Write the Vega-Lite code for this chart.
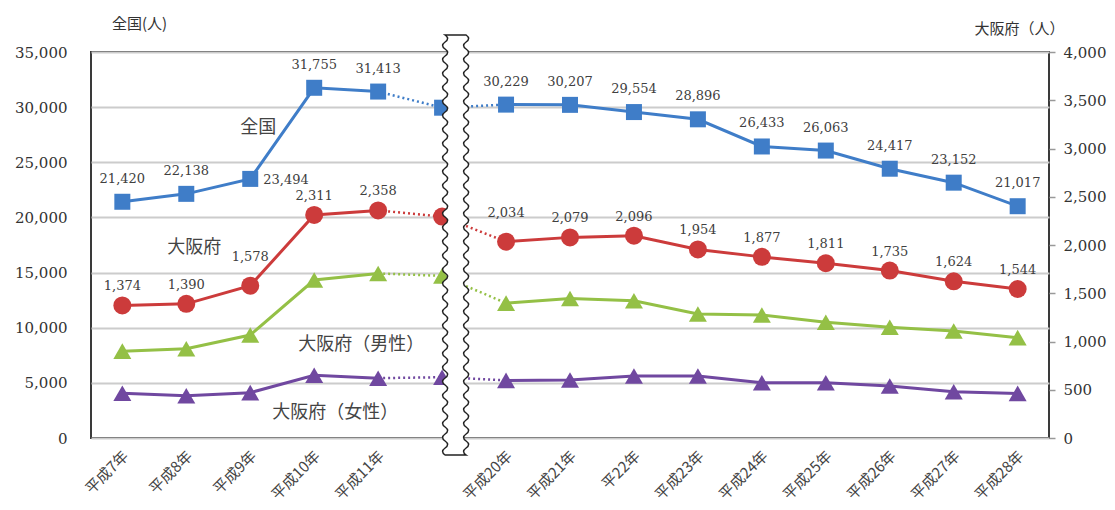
{
  "$schema": "https://vega.github.io/schema/vega-lite/v6.json",
  "width": 958,
  "height": 386,
  "autosize": {"type": "none"},
  "padding": {"left": 91, "top": 52, "right": 66, "bottom": 72},
  "background": "white",
  "config": {
    "view": {"stroke": "#3a3a3a", "strokeWidth": 2},
    "font": "DejaVu Serif"
  },
  "datasets": {
    "d": [
      {"year": "平成7年", "series": "全国", "value": 21420},
      {"year": "平成8年", "series": "全国", "value": 22138},
      {"year": "平成9年", "series": "全国", "value": 23494},
      {"year": "平成10年", "series": "全国", "value": 31755},
      {"year": "平成11年", "series": "全国", "value": 31413},
      {"year": "（中略）", "series": "全国", "value": 29950},
      {"year": "平成20年", "series": "全国", "value": 30229},
      {"year": "平成21年", "series": "全国", "value": 30207},
      {"year": "平22年", "series": "全国", "value": 29554},
      {"year": "平成23年", "series": "全国", "value": 28896},
      {"year": "平成24年", "series": "全国", "value": 26433},
      {"year": "平成25年", "series": "全国", "value": 26063},
      {"year": "平成26年", "series": "全国", "value": 24417},
      {"year": "平成27年", "series": "全国", "value": 23152},
      {"year": "平成28年", "series": "全国", "value": 21017},
      {"year": "平成7年", "series": "大阪府", "value": 1374},
      {"year": "平成8年", "series": "大阪府", "value": 1390},
      {"year": "平成9年", "series": "大阪府", "value": 1578},
      {"year": "平成10年", "series": "大阪府", "value": 2311},
      {"year": "平成11年", "series": "大阪府", "value": 2358},
      {"year": "（中略）", "series": "大阪府", "value": 2295},
      {"year": "平成20年", "series": "大阪府", "value": 2034},
      {"year": "平成21年", "series": "大阪府", "value": 2079},
      {"year": "平22年", "series": "大阪府", "value": 2096},
      {"year": "平成23年", "series": "大阪府", "value": 1954},
      {"year": "平成24年", "series": "大阪府", "value": 1877},
      {"year": "平成25年", "series": "大阪府", "value": 1811},
      {"year": "平成26年", "series": "大阪府", "value": 1735},
      {"year": "平成27年", "series": "大阪府", "value": 1624},
      {"year": "平成28年", "series": "大阪府", "value": 1544},
      {"year": "平成7年", "series": "大阪府（男性）", "value": 900},
      {"year": "平成8年", "series": "大阪府（男性）", "value": 925},
      {"year": "平成9年", "series": "大阪府（男性）", "value": 1067},
      {"year": "平成10年", "series": "大阪府（男性）", "value": 1637},
      {"year": "平成11年", "series": "大阪府（男性）", "value": 1705},
      {"year": "（中略）", "series": "大阪府（男性）", "value": 1680},
      {"year": "平成20年", "series": "大阪府（男性）", "value": 1398},
      {"year": "平成21年", "series": "大阪府（男性）", "value": 1445},
      {"year": "平22年", "series": "大阪府（男性）", "value": 1423},
      {"year": "平成23年", "series": "大阪府（男性）", "value": 1285},
      {"year": "平成24年", "series": "大阪府（男性）", "value": 1275},
      {"year": "平成25年", "series": "大阪府（男性）", "value": 1199},
      {"year": "平成26年", "series": "大阪府（男性）", "value": 1147},
      {"year": "平成27年", "series": "大阪府（男性）", "value": 1109},
      {"year": "平成28年", "series": "大阪府（男性）", "value": 1040},
      {"year": "平成7年", "series": "大阪府（女性）", "value": 463},
      {"year": "平成8年", "series": "大阪府（女性）", "value": 438},
      {"year": "平成9年", "series": "大阪府（女性）", "value": 470},
      {"year": "平成10年", "series": "大阪府（女性）", "value": 650},
      {"year": "平成11年", "series": "大阪府（女性）", "value": 620},
      {"year": "（中略）", "series": "大阪府（女性）", "value": 630},
      {"year": "平成20年", "series": "大阪府（女性）", "value": 597},
      {"year": "平成21年", "series": "大阪府（女性）", "value": 601},
      {"year": "平22年", "series": "大阪府（女性）", "value": 642},
      {"year": "平成23年", "series": "大阪府（女性）", "value": 642},
      {"year": "平成24年", "series": "大阪府（女性）", "value": 573},
      {"year": "平成25年", "series": "大阪府（女性）", "value": 573},
      {"year": "平成26年", "series": "大阪府（女性）", "value": 539},
      {"year": "平成27年", "series": "大阪府（女性）", "value": 480},
      {"year": "平成28年", "series": "大阪府（女性）", "value": 462}
    ],
    "notes": [
      {"note": "全国", "year": "平成9年", "v": 3212},
      {"note": "大阪府", "year": "平成8年", "v": 1969},
      {"note": "大阪府（男性）", "year": "平成11年", "v": 964},
      {"note": "大阪府（女性）", "year": "平成10年", "v": 259}
    ],
    "brk": [{"year": "（中略）"}]
  },
  "encoding": {
    "x": {
      "field": "year",
      "type": "ordinal",
      "scale": {
        "type": "point",
        "padding": 0.49,
        "domain": ["平成7年", "平成8年", "平成9年", "平成10年", "平成11年", "（中略）", "平成20年", "平成21年", "平22年", "平成23年", "平成24年", "平成25年", "平成26年", "平成27年", "平成28年"]
      },
      "axis": {
        "title": null,
        "labelAngle": 315,
        "labelAlign": "right",
        "labelBaseline": "middle",
        "labelFont": "Noto Sans CJK JP",
        "labelFontSize": 15,
        "labelColor": "#444444",
        "labelPadding": 15,
        "labelOffset": 3,
        "ticks": false,
        "domain": false,
        "grid": false,
        "labelExpr": "datum.value === '（中略）' ? '' : datum.value"
      }
    }
  },
  "layer": [
    {
      "data": {"name": "d"},
      "transform": [{"filter": "datum.series === '全国'"}],
      "encoding": {
        "y": {
          "field": "value",
          "type": "quantitative",
          "scale": {"domain": [0, 35000], "nice": false},
          "axis": {
            "orient": "left",
            "values": [0, 5000, 10000, 15000, 20000, 25000, 30000, 35000],
            "format": ",d",
            "labelFont": "DejaVu Serif",
            "labelFontSize": 15,
            "labelColor": "#333333",
            "labelPadding": 24,
            "ticks": false,
            "domain": false,
            "grid": true,
            "gridColor": "#cccccc",
            "gridWidth": 2,
            "title": "全国(人)",
            "titleFont": "Noto Sans CJK JP",
            "titleFontSize": 15,
            "titleFontWeight": "normal",
            "titleColor": "#333333",
            "titleAngle": 0,
            "titleAlign": "center",
            "titleBaseline": "middle",
            "titleX": 48,
            "titleY": -29
          }
        }
      },
      "layer": [
        {
          "transform": [{"filter": {"field": "year", "oneOf": ["平成7年", "平成8年", "平成9年", "平成10年", "平成11年"]}}],
          "mark": {"type": "line", "color": "#3f7dc8", "strokeWidth": 3}
        },
        {
          "transform": [{"filter": {"field": "year", "oneOf": ["平成20年", "平成21年", "平22年", "平成23年", "平成24年", "平成25年", "平成26年", "平成27年", "平成28年"]}}],
          "mark": {"type": "line", "color": "#3f7dc8", "strokeWidth": 3}
        },
        {
          "transform": [{"filter": {"field": "year", "oneOf": ["平成11年", "（中略）", "平成20年"]}}],
          "mark": {"type": "line", "color": "#3f7dc8", "strokeWidth": 2.5, "strokeDash": [2, 3]}
        },
        {
          "mark": {"type": "point", "shape": "square", "filled": true, "size": 256, "color": "#3f7dc8", "opacity": 1}
        },
        {
          "transform": [{"filter": "datum.year !== '（中略）' && datum.year !== '平成9年'"}],
          "mark": {"type": "text", "dy": -23, "fontSize": 13, "font": "DejaVu Serif", "color": "#404040"},
          "encoding": {"text": {"field": "value", "type": "quantitative", "format": ",d"}}
        },
        {
          "transform": [{"filter": "datum.year === '平成9年'"}],
          "mark": {"type": "text", "align": "left", "dx": 13, "dy": 1, "fontSize": 13, "font": "DejaVu Serif", "color": "#404040"},
          "encoding": {"text": {"field": "value", "type": "quantitative", "format": ",d"}}
        }
      ]
    },
    {
      "data": {"name": "d"},
      "transform": [{"filter": "datum.series !== '全国'"}],
      "encoding": {
        "y": {
          "field": "value",
          "type": "quantitative",
          "scale": {"domain": [0, 4000], "nice": false},
          "axis": {
            "orient": "right",
            "values": [0, 500, 1000, 1500, 2000, 2500, 3000, 3500, 4000],
            "format": ",d",
            "labelFont": "DejaVu Serif",
            "labelFontSize": 15,
            "labelColor": "#333333",
            "labelPadding": 8,
            "ticks": true,
            "tickSize": 6,
            "tickColor": "#999999",
            "tickWidth": 1.5,
            "domain": false,
            "grid": false,
            "title": "大阪府（人）",
            "titleFont": "Noto Sans CJK JP",
            "titleFontSize": 15,
            "titleFontWeight": "normal",
            "titleColor": "#333333",
            "titleAngle": 0,
            "titleAlign": "center",
            "titleBaseline": "middle",
            "titleX": -30,
            "titleY": -24
          }
        },
        "color": {
          "field": "series",
          "type": "nominal",
          "scale": {"domain": ["大阪府", "大阪府（男性）", "大阪府（女性）"], "range": ["#cc3b3b", "#94c046", "#7048a0"]},
          "legend": null
        }
      },
      "layer": [
        {
          "transform": [{"filter": {"field": "year", "oneOf": ["平成7年", "平成8年", "平成9年", "平成10年", "平成11年"]}}],
          "mark": {"type": "line", "strokeWidth": 3}
        },
        {
          "transform": [{"filter": {"field": "year", "oneOf": ["平成20年", "平成21年", "平22年", "平成23年", "平成24年", "平成25年", "平成26年", "平成27年", "平成28年"]}}],
          "mark": {"type": "line", "strokeWidth": 3}
        },
        {
          "transform": [{"filter": {"field": "year", "oneOf": ["平成11年", "（中略）", "平成20年"]}}],
          "mark": {"type": "line", "strokeWidth": 2.5, "strokeDash": [2, 3]}
        },
        {
          "mark": {"type": "point", "filled": true, "size": 324, "opacity": 1},
          "encoding": {
            "shape": {
              "field": "series",
              "type": "nominal",
              "scale": {"domain": ["大阪府", "大阪府（男性）", "大阪府（女性）"], "range": ["circle", "triangle-up", "triangle-up"]},
              "legend": null
            }
          }
        },
        {
          "transform": [{"filter": "datum.series === '大阪府' && datum.year !== '（中略）' && datum.year !== '平成9年' && datum.year !== '平成20年'"}],
          "mark": {"type": "text", "dy": -19, "fontSize": 13, "font": "DejaVu Serif", "color": "#404040"},
          "encoding": {"text": {"field": "value", "type": "quantitative", "format": ",d"}, "color": {"value": "#404040"}}
        },
        {
          "transform": [{"filter": "datum.series === '大阪府' && (datum.year === '平成9年' || datum.year === '平成20年')"}],
          "mark": {"type": "text", "dy": -29, "fontSize": 13, "font": "DejaVu Serif", "color": "#404040"},
          "encoding": {"text": {"field": "value", "type": "quantitative", "format": ",d"}, "color": {"value": "#404040"}}
        }
      ]
    },
    {
      "data": {"name": "brk"},
      "mark": {
        "type": "point",
        "shape": "M 3 -210 Q 8 -206.5 3 -203 T 3 -196 T 3 -189 T 3 -182 T 3 -175 T 3 -168 T 3 -161 T 3 -154 T 3 -147 T 3 -140 T 3 -133 T 3 -126 T 3 -119 T 3 -112 T 3 -105 T 3 -98 T 3 -91 T 3 -84 T 3 -77 T 3 -70 T 3 -63 T 3 -56 T 3 -49 T 3 -42 T 3 -35 T 3 -28 T 3 -21 T 3 -14 T 3 -7 T 3 0 T 3 7 T 3 14 T 3 21 T 3 28 T 3 35 T 3 42 T 3 49 T 3 56 T 3 63 T 3 70 T 3 77 T 3 84 T 3 91 T 3 98 T 3 105 T 3 112 T 3 119 T 3 126 T 3 133 T 3 140 T 3 147 T 3 154 T 3 161 T 3 168 T 3 175 T 3 182 T 3 189 T 3 196 T 3 203 T 3 210 L 24 210 Q 19 206.5 24 203 T 24 196 T 24 189 T 24 182 T 24 175 T 24 168 T 24 161 T 24 154 T 24 147 T 24 140 T 24 133 T 24 126 T 24 119 T 24 112 T 24 105 T 24 98 T 24 91 T 24 84 T 24 77 T 24 70 T 24 63 T 24 56 T 24 49 T 24 42 T 24 35 T 24 28 T 24 21 T 24 14 T 24 7 T 24 0 T 24 -7 T 24 -14 T 24 -21 T 24 -28 T 24 -35 T 24 -42 T 24 -49 T 24 -56 T 24 -63 T 24 -70 T 24 -77 T 24 -84 T 24 -91 T 24 -98 T 24 -105 T 24 -112 T 24 -119 T 24 -126 T 24 -133 T 24 -140 T 24 -147 T 24 -154 T 24 -161 T 24 -168 T 24 -175 T 24 -182 T 24 -189 T 24 -196 T 24 -203 T 24 -210 Z",
        "size": 4,
        "filled": true,
        "color": "white",
        "stroke": "#222222",
        "strokeWidth": 1.5,
        "opacity": 1
      },
      "encoding": {}
    },
    {
      "data": {"name": "notes"},
      "encoding": {
        "y": {"field": "v", "type": "quantitative", "scale": {"domain": [0, 4000], "nice": false}, "axis": null},
        "text": {"field": "note", "type": "nominal"}
      },
      "layer": [
        {
          "transform": [{"filter": "datum.note === '全国' || datum.note === '大阪府'"}],
          "mark": {"type": "text", "dx": 8, "font": "Noto Sans CJK JP", "fontSize": 18, "color": "#444444", "baseline": "middle"}
        },
        {
          "transform": [{"filter": "datum.note === '大阪府（男性）'"}],
          "mark": {"type": "text", "dx": -17, "font": "Noto Sans CJK JP", "fontSize": 18, "color": "#444444", "baseline": "middle"}
        },
        {
          "transform": [{"filter": "datum.note === '大阪府（女性）'"}],
          "mark": {"type": "text", "dx": 21, "font": "Noto Sans CJK JP", "fontSize": 18, "color": "#444444", "baseline": "middle"}
        }
      ]
    }
  ],
  "resolve": {"scale": {"y": "independent"}}
}
